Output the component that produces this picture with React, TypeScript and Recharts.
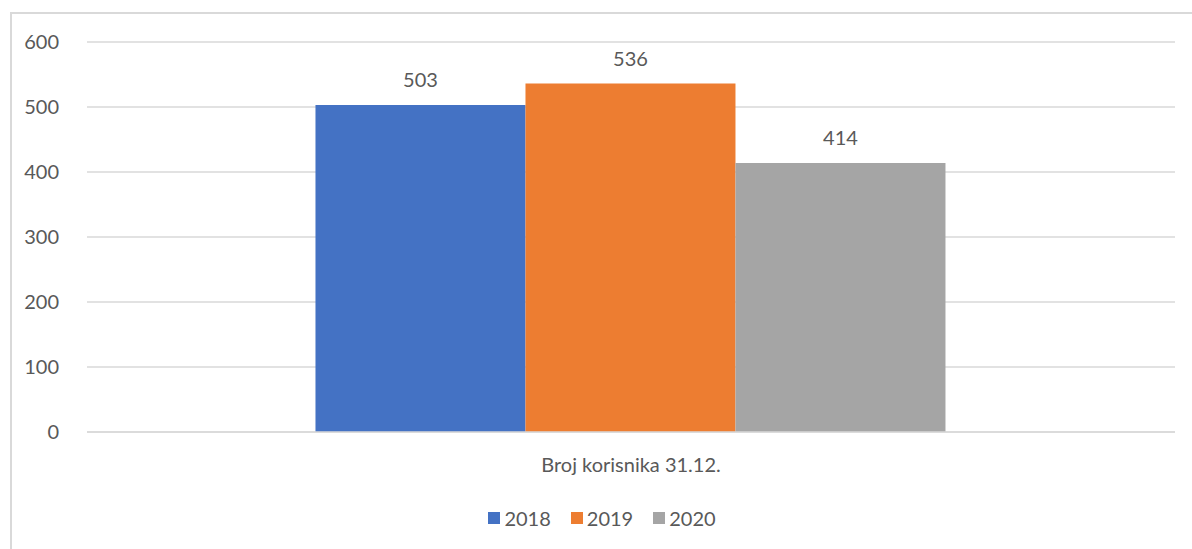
import { BarChart, Bar, XAxis, YAxis, CartesianGrid, Legend, LabelList } from 'recharts'

const categories = ['Broj korisnika 31.12.']
const years = ['2018', '2019', '2020']
const values2018 = [503]
const values2019 = [536]
const values2020 = [414]
const yTicks = [0, 100, 200, 300, 400, 500, 600]

const colors: Record<string, string> = { '2018': '#4472c4', '2019': '#ed7d31', '2020': '#a5a5a5' }

const data = categories.map((name, i) => ({
  name,
  '2018': values2018[i],
  '2019': values2019[i],
  '2020': values2020[i],
}))

const font = 'Lato, "Open Sans", sans-serif'
const textColor = '#595959'

function LegendContent() {
  return (
    <div style={{ display: 'flex', justifyContent: 'center', gap: 20, fontFamily: font, fontSize: 20, color: textColor, paddingTop: 24, paddingLeft: 2 }}>
      {years.map((y) => (
        <div key={y} style={{ display: 'flex', alignItems: 'center', gap: 4 }}>
          <span style={{ width: 12, height: 12, background: colors[y], display: 'inline-block' }} />
          <span>{y}</span>
        </div>
      ))}
    </div>
  )
}

export default function App() {
  return (
    <div style={{ position: 'fixed', left: 0, top: 0, width: 1192, height: 549, overflow: 'hidden', background: '#fff' }}>
      <div style={{ position: 'absolute', left: 10, top: 12, width: 1200, height: 560, border: '2px solid #d9d9d9', boxSizing: 'border-box' }} />
      <div style={{ position: 'absolute', left: 0, top: 0 }}>
        <BarChart
          width={1192}
          height={549}
          data={data}
          margin={{ top: 42, right: 17, left: 27, bottom: 20 }}
          barCategoryGap="21%"
          barGap={0}
        >
          <CartesianGrid vertical={false} stroke="#d9d9d9" strokeWidth={1.5} />
          <XAxis
            dataKey="name"
            axisLine={{ stroke: '#d9d9d9', strokeWidth: 1.5 }}
            tickLine={false}
            height={50}
            tick={{ fill: textColor, fontSize: 20, fontFamily: font, dy: 18 }}
          />
          <YAxis
            domain={[0, 600]}
            ticks={yTicks}
            axisLine={false}
            tickLine={false}
            width={60}
            tick={{ fill: textColor, fontSize: 20, fontFamily: font, dx: -20 }}
          />
          <Legend verticalAlign="bottom" height={47} content={<LegendContent />} />
          {years.map((y) => (
            <Bar key={y} dataKey={y} fill={colors[y]} isAnimationActive={false}>
              <LabelList dataKey={y} position="top" offset={18} style={{ fill: textColor, fontSize: 20, fontFamily: font }} />
            </Bar>
          ))}
        </BarChart>
      </div>
    </div>
  )
}
